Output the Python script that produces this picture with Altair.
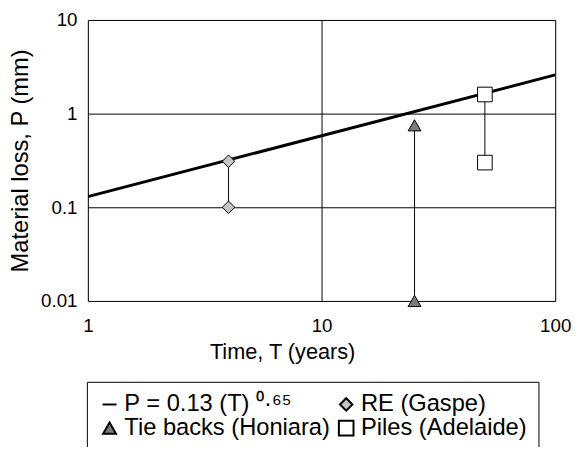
import altair as alt
import pandas as pd

# fitted relation P = 0.13 T^0.65 (end points of straight line on log-log axes)
fit_T = [1, 100]
fit_P = [0.13, 2.59]
fit_label = "P = 0.13 (T) ⁰·⁶⁵"

series = ["RE (Gaspe)", "Tie backs (Honiara)", "Piles (Adelaide)"]
series_T = [4, 25, 50]
P_high = [0.31, 0.75, 1.6]
P_low = [0.1, 0.01, 0.3]

# legend fills column by column: col 1 = line, Tie backs; col 2 = RE, Piles
legend_order = [fit_label, "Tie backs (Honiara)", "RE (Gaspe)", "Piles (Adelaide)"]
shapes = ["stroke", "triangle-up", "diamond", "square"]
fills = ["black", "#7a7a7a", "#c4c4c4", "white"]
sizes = [200, 170, 160, 220]

fit_df = pd.DataFrame({"T": fit_T, "P": fit_P, "series": fit_label})
rng_df = pd.DataFrame({"series": series, "T": series_T, "high": P_high, "low": P_low})
pts_df = pd.DataFrame({
    "series": series + series,
    "T": series_T + series_T,
    "P": P_high + P_low,
})

FONT = "Liberation Sans"

xs = alt.Scale(type="log", domain=[1, 100])
ys = alt.Scale(type="log", domain=[0.01, 10])

xaxis = alt.Axis(values=[1, 10, 100], format="~g", title="Time, T (years)",
                 grid=True, gridColor="black", gridOpacity=1, gridWidth=1,
                 ticks=False, domain=False, labelPadding=16, titlePadding=6,
                 titleX=197, titleAlign="center",
                 labelFontSize=19, titleFontSize=22, labelFont=FONT, titleFont=FONT,
                 titleFontWeight="normal", labelColor="black", titleColor="black",
                 labelFlush=False)
yaxis = alt.Axis(values=[0.01, 0.1, 1, 10], format="~g", title="Material loss, P (mm)",
                 grid=True, gridColor="black", gridOpacity=1, gridWidth=1,
                 ticks=False, domain=False, labelPadding=11, titlePadding=8,
                 labelFontSize=19, titleFontSize=24, labelFont=FONT, titleFont=FONT,
                 titleFontWeight="normal", labelColor="black", titleColor="black")

line = alt.Chart(fit_df).mark_line(color="black", strokeWidth=3, clip=True).encode(
    x=alt.X("T:Q", scale=xs, axis=xaxis),
    y=alt.Y("P:Q", scale=ys, axis=yaxis),
)

rules = alt.Chart(rng_df).mark_rule(color="black", strokeWidth=1).encode(
    x=alt.X("T:Q", scale=xs),
    y=alt.Y("low:Q", scale=ys),
    y2="high:Q",
)

legend = alt.Legend(
    title=None, orient="none", legendX=-1, legendY=367, columns=2,
    strokeColor="black", fillColor="white", padding=11, columnPadding=4,
    rowPadding=-6, labelFontSize=24, labelFont=FONT, labelColor="black",
    labelLimit=400, symbolStrokeWidth=2, symbolOffset=0, labelOffset=3,
)

points = alt.Chart(pts_df).mark_point(strokeWidth=1, opacity=1,
                                      fillOpacity=1).encode(
    x=alt.X("T:Q", scale=xs),
    y=alt.Y("P:Q", scale=ys),
    shape=alt.Shape("series:N", scale=alt.Scale(domain=legend_order, range=shapes),
                    legend=legend),
    fill=alt.Fill("series:N", scale=alt.Scale(domain=legend_order, range=fills),
                  legend=legend),
    stroke=alt.Stroke("series:N",
                      scale=alt.Scale(domain=legend_order,
                                      range=["black", "black", "black", "black"]),
                      legend=legend),
    size=alt.Size("series:N", scale=alt.Scale(type="ordinal", domain=legend_order,
                                              range=sizes),
                  legend=legend),
)

chart = alt.layer(line, rules, points).properties(
    width=474, height=285,
    autosize=alt.AutoSizeParams(type="none"),
    padding={"left": 81, "top": 9, "right": 16, "bottom": 145},
).configure_view(stroke="black", strokeWidth=1.5).configure(background="white")

chart.save("out.html", embed_options={"renderer": "svg", "actions": False})
